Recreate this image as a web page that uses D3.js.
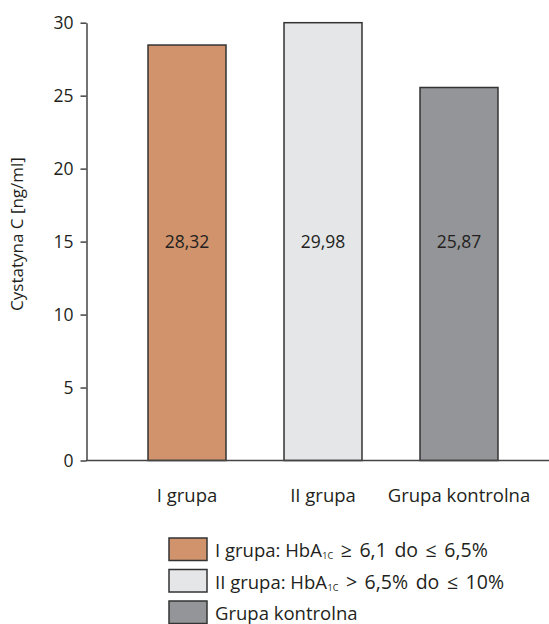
<!DOCTYPE html>
<html><head><meta charset="utf-8">
<script src="https://cdn.jsdelivr.net/npm/d3@7"></script>
<style>body{margin:0;background:#fff}svg{display:block}text{font-family:"Open Sans","Noto Sans",sans-serif;fill:#231f20}</style>
</head><body>
<script>
const categories = ["I grupa", "II grupa", "Grupa kontrolna"];
const values = [28.47, 30.0, 25.56];
const valueLabels = ["28,32", "29,98", "25,87"];
const colors = ["#d0936c", "#e5e6e8", "#939598"];
const yTicks = [0, 5, 10, 15, 20, 25, 30];
const legendItems = [
  {pre: "I grupa: HbA", sub: "1C", post: " \u2265 6,1 do \u2264 6,5%"},
  {pre: "II grupa: HbA", sub: "1C", post: " > 6,5% do \u2264 10%"},
  {pre: "Grupa kontrolna", sub: "", post: ""}
];
const yTitle = "Cystatyna C [ng/ml]";

const W = 549, H = 624;
const svg = d3.select("body").append("svg").attr("width", W).attr("height", H);

const y = d3.scaleLinear().domain([0, 30]).range([460.5, 22.7]);
const x = d3.scaleBand().domain(categories).range([86, 560]).paddingInner(0.4265).paddingOuter(0.456);

// bars
svg.selectAll("rect.bar").data(values).join("rect")
  .attr("class", "bar")
  .attr("x", (d, i) => x(categories[i]))
  .attr("width", x.bandwidth())
  .attr("y", d => y(d))
  .attr("height", d => y(0) - y(d))
  .attr("fill", (d, i) => colors[i])
  .attr("stroke", "#333")
  .attr("stroke-width", 1.5);

// value labels
svg.selectAll("text.val").data(valueLabels).join("text")
  .attr("class", "val")
  .attr("x", (d, i) => x(categories[i]) + x.bandwidth() / 2)
  .attr("y", y(15) + 6.5)
  .attr("text-anchor", "middle")
  .attr("font-size", 17.5)
  .text(d => d);

// y axis
const yAxis = svg.append("g").attr("transform", "translate(86.5,0)")
  .call(d3.axisLeft(y).tickValues(yTicks).tickSize(6).tickSizeOuter(0).tickPadding(7));
yAxis.select(".domain").attr("stroke", "#444").attr("stroke-width", 1.5);
yAxis.selectAll(".tick line").attr("stroke", "#444").attr("stroke-width", 1.5);
yAxis.selectAll(".tick text").attr("font-size", 17.5).attr("fill", "#231f20")
  .style("font-family", "'Open Sans','Noto Sans',sans-serif");

// x axis line
svg.append("line").attr("x1", 86).attr("x2", W).attr("y1", y(0)).attr("y2", y(0))
  .attr("stroke", "#444").attr("stroke-width", 1.5);

// category labels
svg.selectAll("text.cat").data(categories).join("text")
  .attr("class", "cat")
  .attr("x", d => x(d) + x.bandwidth() / 2)
  .attr("y", 502)
  .attr("text-anchor", "middle")
  .attr("font-size", 18.5)
  .text(d => d);

// y title
svg.append("text")
  .attr("transform", "translate(23,234) rotate(-90)")
  .attr("text-anchor", "middle")
  .attr("font-size", 17)
  .text(yTitle);

// legend
const lg = svg.append("g");
legendItems.forEach((it, i) => {
  const yy = 538 + i * 31.5;
  lg.append("rect").attr("x", 169).attr("y", yy).attr("width", 38).attr("height", 22.5)
    .attr("fill", colors[i]).attr("stroke", "#333").attr("stroke-width", 1.5);
  const t = lg.append("text").attr("x", 215).attr("y", yy + 19).attr("font-size", 18.5);
  t.append("tspan").text(it.pre);
  if (it.sub) {
    t.append("tspan").attr("font-size", 9).attr("dy", 2).attr("dx", 0.5).text(it.sub);
    t.append("tspan").attr("dy", -2).attr("font-size", 19.5).style("word-spacing", "2.5px").text(it.post);
  }
});
</script>
</body></html>
